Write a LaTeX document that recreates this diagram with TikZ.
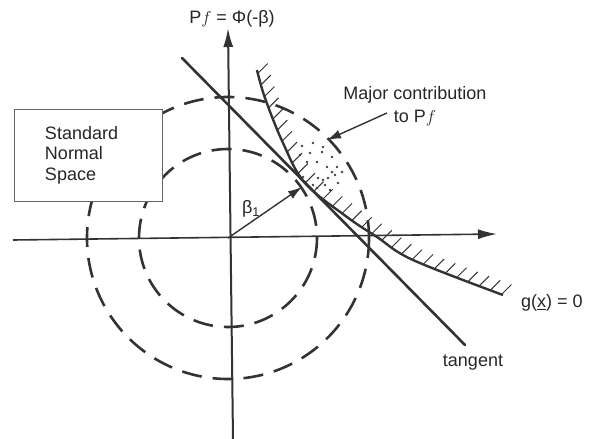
\documentclass[tikz,border=0pt]{standalone}
\usepackage{fontspec}
\setmainfont{Liberation Sans}
\usetikzlibrary{arrows.meta,decorations.markings}

\begin{document}
\begin{tikzpicture}[x=1pt,y=-1pt,
  font=\fontsize{18}{23}\selectfont,
  axis/.style={-{Latex[length=19pt,width=10pt]},draw=black!80,line width=1.6pt},
  ring/.style={draw=black!80,line width=2.6pt,dash pattern=on 20pt off 11pt},
  tangentline/.style={draw=black!80,line width=2.6pt,line cap=round},
  limitstate/.style={draw=black!80,line width=2.4pt,
    postaction={decorate,decoration={markings,
      mark=between positions 0.01 and 1 step 12pt with {\pgftransformresetnontranslations
        \draw[black!80,line width=1pt] (0,0)--(45:14pt);}}}},
  pointer/.style={-{Latex[length=14pt,width=9pt]},draw=black!80,line width=1.4pt},
  panel/.style={draw=black!60,fill=white,line width=0.8pt,align=left,text width=86pt,
    inner xsep=31pt,minimum height=92pt,font=\fontsize{18}{20.5}\selectfont,text=black!85},
  caption/.style={text=black!85,inner sep=1pt,align=center}]
\useasboundingbox (0,0) rectangle (590,439);

\coordinate (origin) at (228,238);
\coordinate (xleft) at (13,240);
\coordinate (xright) at (497,234);
\coordinate (ybottom) at (233,439);
\coordinate (ytop) at (228,28);
\coordinate (design) at (302,187);
\coordinate (tanA) at (182,58);
\coordinate (tanB) at (465,345);
\coordinate (majortail) at (387,113);
\coordinate (majortip) at (327,140);

\draw[ring] (origin) circle[radius=89];
\draw[ring] (origin) circle[radius=141];
\draw[axis] (xleft)--(xright);
\draw[axis,line width=2pt] (ybottom)--(ytop);
\draw[tangentline] (tanA)--(tanB);
\draw[limitstate] plot[smooth,tension=0.6] coordinates {(257,70) (265,98) (283,143)
  (305,183) (347,217) (377,237) (413,260) (503,295)};
\draw[pointer] (origin)--(design);

\foreach \px/\py in {302/146,313/143,323/147,322/152,310/153,300/155,332/157,307/162,
  317/162,327/167,337/167,342/172,332/172,335/175,303/177,318/178,323/180,328/178,
  338/183,313/185,325/185,317/188,330/190}
  \fill[black!75] (\px,\py) circle[radius=1.4];

\node[panel] (sns) at (88,155) {Standard\\Normal\\Space};
\node[caption] (pf) at (232,19) {P$f$ = Φ(-β)};
\node[caption] (major) at (415,106) {Major contribution\\to P$f$};
\draw[pointer] (majortail)--(majortip);
\node[caption] (beta) at (251,209) {β\textsubscript{1}};
\node[caption,anchor=west] (gx) at (520,303) {g(\underline{x}) = 0};
\node[caption] (tang) at (473,363) {tangent};
\end{tikzpicture}
\end{document}
